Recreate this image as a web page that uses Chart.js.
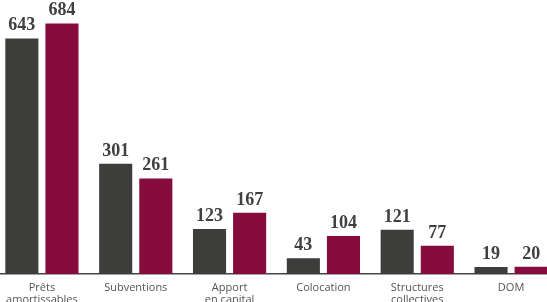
<!DOCTYPE html>
<html>
<head>
<meta charset="utf-8">
<script src="https://cdn.jsdelivr.net/npm/chart.js@4.4.0/dist/chart.umd.min.js"></script>
<style>
  html, body { margin: 0; padding: 0; background: #fff; overflow: hidden; width: 547px; height: 302px; }
  #wrap { position: absolute; left: -5px; top: 0; width: 563px; height: 302px; }
</style>
</head>
<body>
<div id="wrap"><canvas id="chart" width="563" height="302"></canvas></div>
<script>
const categories = [["Prêts", "amortissables"], "Subventions", ["Apport", "en capital"], "Colocation", ["Structures", "collectives"], "DOM"];
const seriesDark = [643, 301, 123, 43, 121, 19];
const seriesRed = [684, 261, 167, 104, 77, 20];

const darkColor = "#3d3d3b";
const redColor = "#870c3e";

// Value labels above each bar
const valueLabels = {
  id: "valueLabels",
  afterDatasetsDraw(chart) {
    const ctx = chart.ctx;
    ctx.save();
    ctx.font = 'bold 18px "Liberation Serif"';
    ctx.fillStyle = "#404040";
    ctx.textAlign = "center";
    ctx.textBaseline = "alphabetic";
    chart.data.datasets.forEach((ds, i) => {
      chart.getDatasetMeta(i).data.forEach((bar, j) => {
        ctx.fillText(ds.data[j], bar.x, bar.y - 8);
      });
    });
    ctx.restore();
  },
};

new Chart(document.getElementById("chart"), {
  type: "bar",
  data: {
    labels: categories,
    datasets: [
      { label: "Série 1", data: seriesDark, backgroundColor: darkColor },
      { label: "Série 2", data: seriesRed, backgroundColor: redColor },
    ],
  },
  options: {
    responsive: false,
    animation: false,
    layout: { padding: 0 },
    datasets: {
      bar: { categoryPercentage: 0.855, barPercentage: 0.825 },
    },
    plugins: {
      legend: { display: false },
      tooltip: { enabled: false },
      title: { display: false },
    },
    scales: {
      x: {
        grid: { display: false, drawTicks: false },
        border: { display: true, color: "#444", width: 1.5 },
        ticks: {
          padding: 8,
          color: "#555",
          font: { family: '"Open Sans"', size: 11, lineHeight: 1.1 },
          maxRotation: 0,
          autoSkip: false,
        },
        afterFit: (scale) => {
          scale.height = 28;
        },
      },
      y: {
        display: false,
        min: 0,
        max: 748,
      },
    },
  },
  plugins: [valueLabels],
});
</script>
</body>
</html>
